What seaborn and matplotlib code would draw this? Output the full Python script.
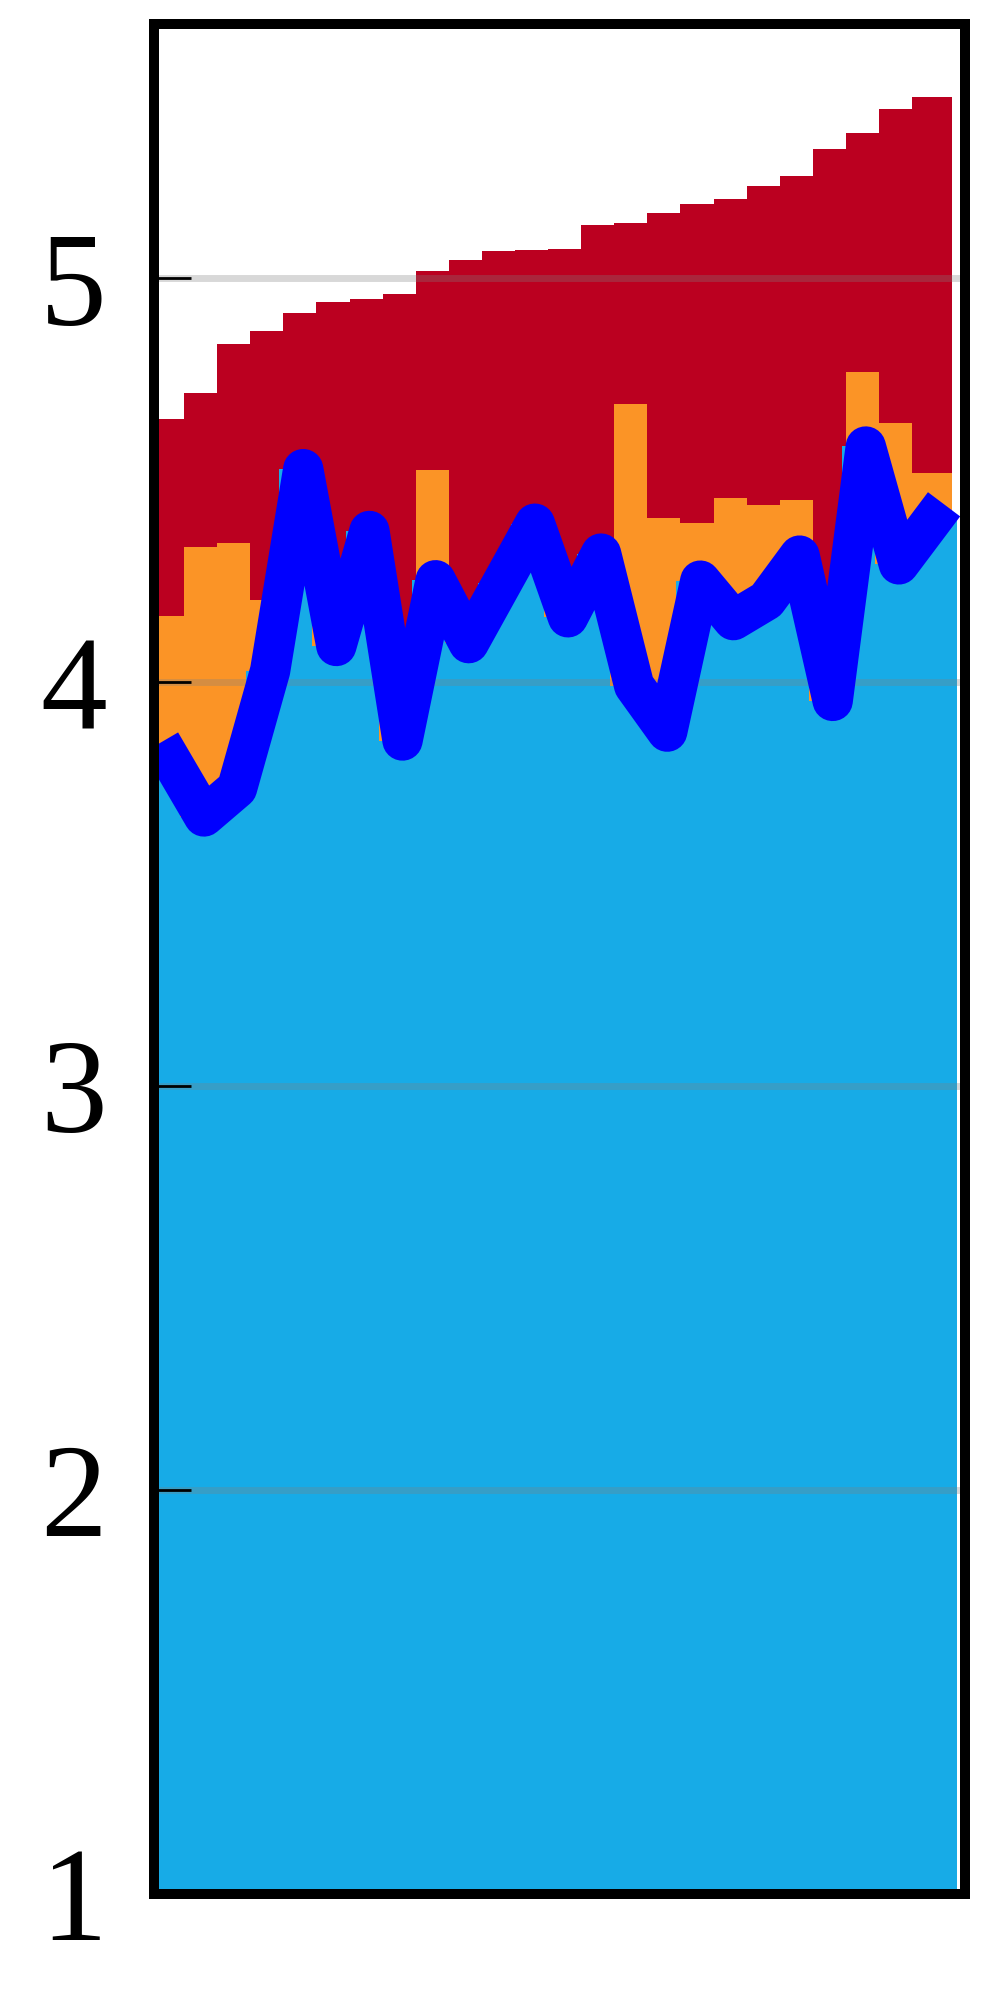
import numpy as np
import pandas as pd
import seaborn as sns
import matplotlib.pyplot as plt

# values, one per step, left to right
top_level = [4.652, 4.715, 4.837, 4.870, 4.913, 4.941, 4.947, 4.960,
             5.018, 5.045, 5.067, 5.070, 5.073, 5.131, 5.137, 5.160,
             5.183, 5.196, 5.228, 5.252, 5.320, 5.359, 5.419, 5.449]
mid_level = [4.164, 4.333, 4.345, 4.203, 4.300, 4.000, 4.150, 3.800,
             4.525, 4.050, 4.150, 4.200, 4.100, 4.200, 4.688, 4.406,
             4.394, 4.455, 4.437, 4.450, 3.900, 4.767, 4.641, 4.518]
low_level = [3.807, 3.667, 3.737, 4.028, 4.527, 4.089, 4.374, 3.855,
             4.252, 4.096, 4.244, 4.392, 4.160, 4.318, 3.991, 3.877,
             4.251, 4.153, 4.202, 4.313, 3.953, 4.583, 4.291, 4.400]
ytick_values = [1, 2, 3, 4, 5]
ytick_labels = ['1', '2', '3', '4', '5']

RED = '#BB0020'
ORANGE = '#FB9426'
CYAN = '#17ABE7'
BLUE = '#0000FF'


def step_fill(ax, values, shift, tail, color):
    """Filled step area from y=1, each step starting at index + shift."""
    n = len(values)
    edges = np.append(np.arange(n) + shift, n - 1 + tail)
    heights = np.append(values, values[-1])
    ax.fill_between(edges, 1, heights, step='post', color=color,
                    lw=0, zorder=1)


def main():
    sns.set_style('white')
    plt.rcParams['font.family'] = ['Liberation Serif', 'DejaVu Serif']

    df = pd.DataFrame({'step': np.arange(len(low_level)),
                       'top': top_level, 'mid': mid_level,
                       'low': low_level})

    fig = plt.figure(figsize=(9.95, 19.94), dpi=100)
    ax = fig.add_axes([0.1551, 0.0502, 0.8148, 0.9376])

    step_fill(ax, df['top'].values, -0.6, 0.62, RED)
    step_fill(ax, df['mid'].values, -0.6, 0.62, ORANGE)
    step_fill(ax, df['low'].values, -0.72, 0.76, CYAN)

    sns.lineplot(data=df, x='step', y='low', ax=ax, color=BLUE,
                 linewidth=29, errorbar=None, legend=False, zorder=3,
                 solid_capstyle='projecting', solid_joinstyle='round')
    for line in ax.get_lines():
        line.set_linewidth(29)

    ax.set_xlim(-0.5, 24)
    ax.set_ylim(1, 5.628)
    ax.set_xlabel('')
    ax.set_ylabel('')
    ax.set_xticks([])
    ax.set_yticks(ytick_values)
    ax.set_yticklabels(ytick_labels)

    ax.set_axisbelow(False)
    ax.yaxis.grid(True, color='#808080', alpha=0.3, lw=5)
    ax.xaxis.grid(False)
    ax.tick_params(axis='y', direction='in', length=26.6, width=2,
                   color='black', labelcolor='black', pad=34,
                   labelsize=96, left=True, right=False)

    for spine in ax.spines.values():
        spine.set_visible(True)
        spine.set_color('black')
        spine.set_linewidth(7.2)
        spine.set_zorder(4)

    fig.savefig('out.png', dpi=100, facecolor='white')


if __name__ == '__main__':
    main()
